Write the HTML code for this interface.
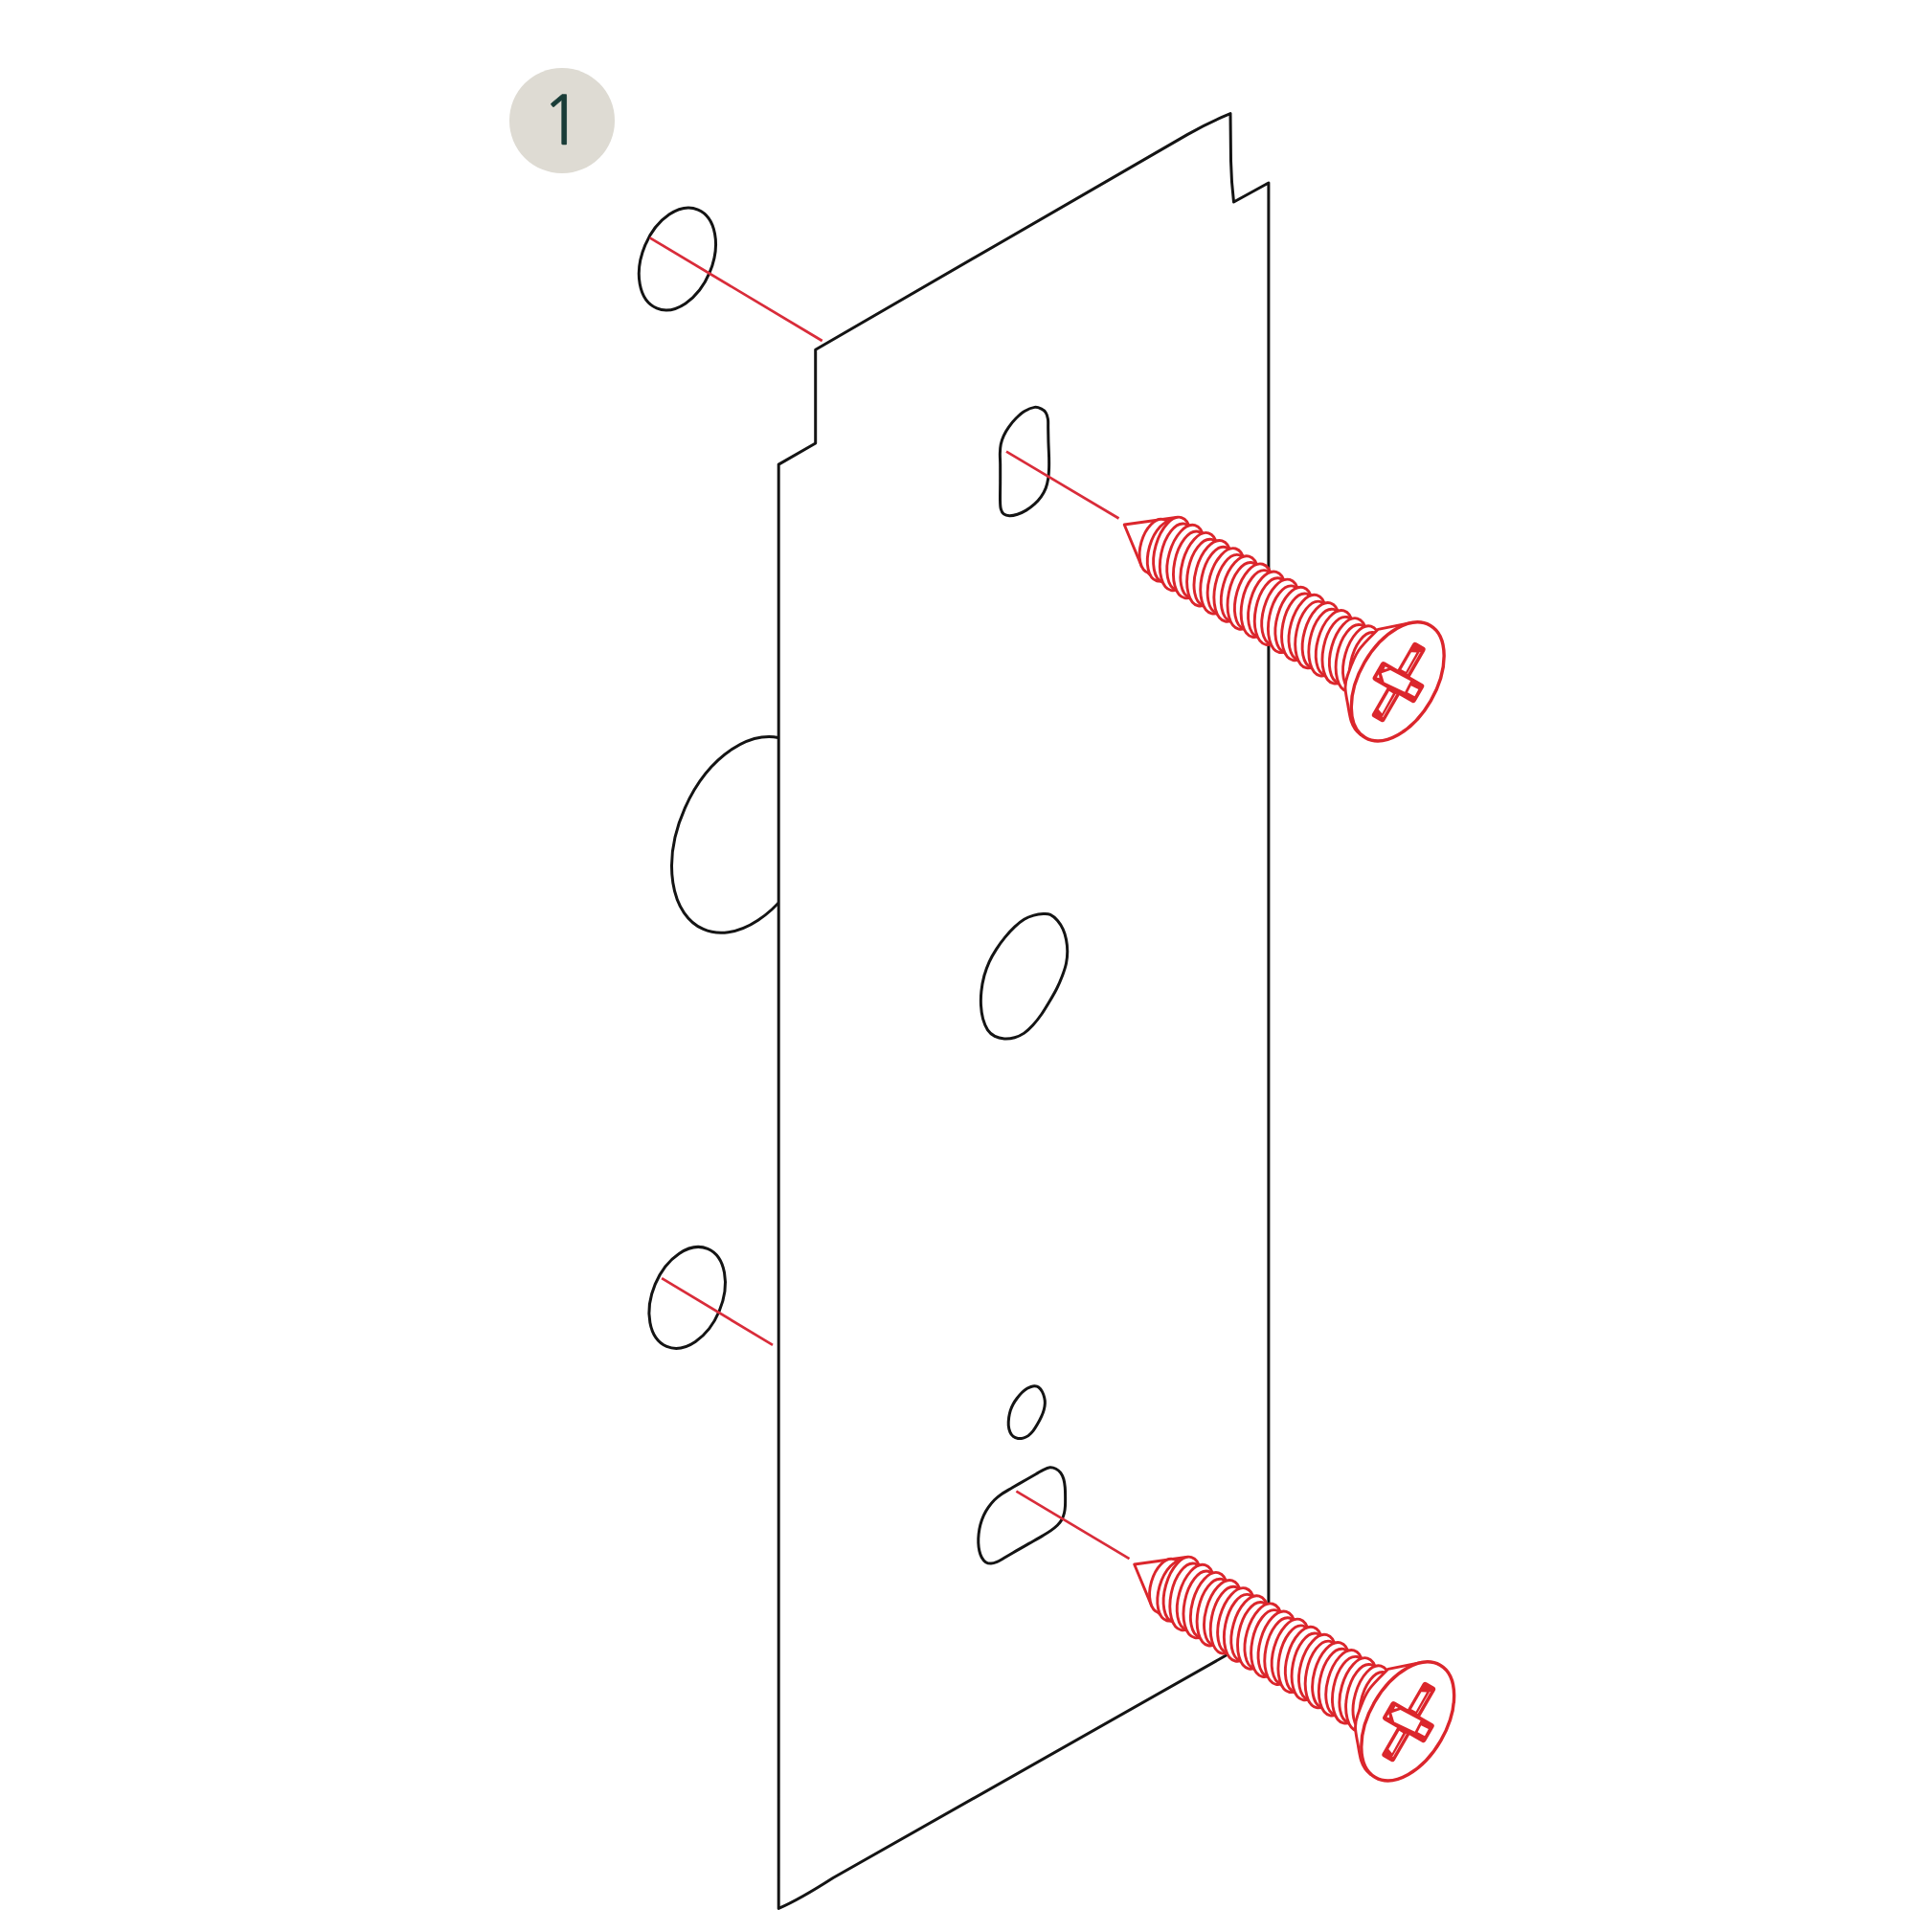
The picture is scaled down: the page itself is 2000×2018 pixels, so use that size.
<!DOCTYPE html>
<html><head><meta charset="utf-8"><title>Step 1</title>
<style>
html,body{margin:0;padding:0;background:#fff}
body{width:2000px;height:2018px;overflow:hidden;position:relative;font-family:"Liberation Sans",sans-serif}
svg{position:absolute;left:0;top:0;display:block;filter:blur(0.6px)}
.bk{fill:none;stroke:#141414;stroke-width:3.0;stroke-linejoin:round}
.rl{stroke:#d92c3a;stroke-width:2.7;stroke-linecap:butt}
.sc{fill:#fff;stroke:#db262c;stroke-width:2.9;stroke-linejoin:round}
.sh{fill:#fff;stroke:#db262c;stroke-width:3.4}
.cf{fill:#db262c;stroke:#db262c;stroke-width:6;stroke-linejoin:round}
.cw{fill:#fff;stroke:none}
.cwf{fill:#fff;stroke:none}
.so{fill:none;stroke:#db262c;stroke-width:3;stroke-linecap:round}
.cl{fill:none;stroke:#fff;stroke-width:0.7}
.badge{position:absolute;left:532.1px;top:71px;width:109.6px;height:109.6px;border-radius:50%;background:#dedbd3}
.num{position:absolute;left:565.6px;top:82.9px;color:#193c37;font-family:"NanumGothic","Liberation Sans",sans-serif;font-size:71px;line-height:85.2px;-webkit-text-stroke:0.7px #193c37;white-space:nowrap}
</style></head><body>
<svg width="2000" height="2018" viewBox="0 0 2000 2018">
<ellipse cx="707.4" cy="270.5" rx="55.8" ry="36.6" transform="rotate(-67.2 707.4 270.5)" class="bk"/>
<ellipse cx="717.7" cy="1355.4" rx="55.3" ry="36.3" transform="rotate(-67.2 717.7 1355.4)" class="bk"/>
<ellipse cx="778.1" cy="871.9" rx="107.8" ry="68.7" transform="rotate(-66.1 778.1 871.9)" class="bk"/>
<path d="M813.2 485.1 L851.7 463 L851.7 365.2 L1240 140.6 Q1262 128 1285 118.6 L1285.5 168 Q1286 190 1288.5 211 L1324.9 191 L1324.9 1703.9 L870 1961.5 Q835 1984 813.2 1993.4 Z" fill="#fff" stroke="#141414" stroke-width="3.0" stroke-linejoin="round"/>
<path d="M1089.5 954.49 C1092.4 954.35 1094.47 954.15 1096.96 955.32 C1099.44 956.49 1102.2 958.98 1104.41 961.53 C1106.62 964.09 1108.69 967.33 1110.21 970.64 C1111.73 973.95 1112.76 977.54 1113.52 981.41 C1114.28 985.27 1114.76 989.69 1114.76 993.83 C1114.76 997.97 1114.42 1001.97 1113.52 1006.25 C1112.62 1010.53 1111.04 1015.09 1109.38 1019.5 C1107.72 1023.92 1105.79 1028.34 1103.58 1032.75 C1101.37 1037.17 1098.75 1041.59 1096.13 1046 C1093.51 1050.42 1090.75 1055.11 1087.85 1059.25 C1084.95 1063.4 1081.77 1067.54 1078.74 1070.85 C1075.7 1074.16 1072.8 1076.99 1069.63 1079.13 C1066.45 1081.27 1063.14 1082.72 1059.69 1083.69 C1056.24 1084.65 1052.37 1085.13 1048.92 1084.93 C1045.47 1084.72 1041.88 1083.96 1038.99 1082.44 C1036.09 1080.92 1033.6 1078.85 1031.53 1075.82 C1029.46 1072.78 1027.74 1068.5 1026.56 1064.22 C1025.39 1059.94 1024.77 1054.98 1024.49 1050.14 C1024.22 1045.31 1024.35 1040.35 1024.91 1035.24 C1025.46 1030.13 1026.43 1024.61 1027.81 1019.5 C1029.19 1014.4 1031.05 1009.29 1033.19 1004.6 C1035.33 999.9 1037.88 995.62 1040.64 991.35 C1043.4 987.07 1046.58 982.79 1049.75 978.92 C1052.93 975.06 1056.38 971.26 1059.69 968.16 C1063 965.05 1066.31 962.29 1069.63 960.29 C1072.94 958.29 1076.25 957.12 1079.57 956.15 C1082.88 955.18 1086.6 954.63 1089.5 954.49 Z" class="bk"/>
<path d="M1080.58 1447.84 C1081.89 1447.94 1083.41 1448.11 1084.72 1449.08 C1086.03 1450.04 1087.45 1451.84 1088.45 1453.63 C1089.45 1455.43 1090.24 1457.84 1090.72 1459.84 C1091.21 1461.85 1091.41 1463.57 1091.35 1465.64 C1091.28 1467.71 1090.93 1469.92 1090.31 1472.27 C1089.69 1474.61 1088.76 1477.17 1087.62 1479.72 C1086.48 1482.27 1084.93 1485.1 1083.48 1487.59 C1082.03 1490.07 1080.51 1492.63 1078.92 1494.63 C1077.34 1496.63 1075.68 1498.35 1073.95 1499.6 C1072.23 1500.84 1070.37 1501.6 1068.57 1502.08 C1066.78 1502.56 1064.91 1502.77 1063.19 1502.49 C1061.46 1502.22 1059.6 1501.53 1058.22 1500.42 C1056.84 1499.32 1055.73 1497.8 1054.91 1495.87 C1054.08 1493.94 1053.46 1491.38 1053.25 1488.83 C1053.04 1486.28 1053.32 1483.17 1053.66 1480.55 C1054.01 1477.93 1054.56 1475.44 1055.32 1473.1 C1056.08 1470.75 1057.05 1468.61 1058.22 1466.47 C1059.39 1464.33 1060.84 1462.26 1062.36 1460.26 C1063.88 1458.26 1065.6 1456.12 1067.33 1454.46 C1069.05 1452.81 1071.12 1451.32 1072.71 1450.32 C1074.3 1449.32 1075.54 1448.87 1076.85 1448.46 C1078.16 1448.04 1079.27 1447.73 1080.58 1447.84 Z" class="bk"/>
<path d="M1080.56 425.39 C1083.43 424.95 1085.37 425.95 1087.31 426.89 C1089.25 427.83 1091 429.21 1092.19 431.02 C1093.38 432.84 1094.03 435.03 1094.44 437.78 C1094.86 440.53 1094.58 443.41 1094.67 447.54 C1094.76 451.67 1094.82 457.55 1094.97 462.55 C1095.12 467.56 1095.47 473.19 1095.57 477.57 C1095.67 481.95 1095.72 485.08 1095.57 488.83 C1095.42 492.58 1095.23 496.59 1094.67 500.09 C1094.11 503.59 1093.42 506.72 1092.19 509.85 C1090.97 512.98 1089.25 516.11 1087.31 518.86 C1085.37 521.61 1083.18 523.99 1080.56 526.37 C1077.93 528.74 1074.55 531.31 1071.55 533.12 C1068.54 534.94 1065.42 536.31 1062.54 537.25 C1059.66 538.19 1056.66 538.82 1054.28 538.75 C1051.9 538.69 1049.77 538.07 1048.27 536.88 C1046.77 535.69 1045.9 534 1045.27 531.62 C1044.64 529.24 1044.62 527.24 1044.52 522.61 C1044.42 517.98 1044.64 510.1 1044.67 503.84 C1044.69 497.59 1044.72 490.08 1044.67 485.08 C1044.62 480.07 1044.27 477.32 1044.37 473.81 C1044.47 470.31 1044.62 467.18 1045.27 464.05 C1045.92 460.93 1046.9 458.05 1048.27 455.05 C1049.65 452.04 1051.4 449.04 1053.53 446.04 C1055.66 443.03 1058.28 439.78 1061.04 437.03 C1063.79 434.27 1066.79 431.46 1070.05 429.52 C1073.3 427.58 1077.68 425.83 1080.56 425.39 Z" class="bk"/>
<path d="M1096.54 1532.82 C1098.76 1532.65 1100.97 1533.29 1102.83 1534.22 C1104.7 1535.15 1106.39 1536.6 1107.73 1538.41 C1109.06 1540.22 1110.11 1542.54 1110.87 1545.05 C1111.63 1547.55 1111.98 1550.29 1112.27 1553.43 C1112.56 1556.58 1112.58 1560.66 1112.62 1563.92 C1112.65 1567.18 1112.65 1570.32 1112.48 1573 C1112.3 1575.68 1112.13 1577.66 1111.57 1579.99 C1111.01 1582.32 1110.35 1584.76 1109.12 1586.98 C1107.9 1589.19 1106.21 1591.29 1104.23 1593.27 C1102.25 1595.25 1099.81 1597.05 1097.24 1598.86 C1094.68 1600.66 1092.58 1601.89 1088.86 1604.1 C1085.13 1606.31 1079.54 1609.46 1074.88 1612.13 C1070.22 1614.81 1065.33 1617.61 1060.9 1620.17 C1056.48 1622.73 1051.59 1625.65 1048.33 1627.51 C1045.07 1629.37 1043.55 1630.42 1041.34 1631.35 C1039.13 1632.28 1037.03 1633.04 1035.05 1633.1 C1033.07 1633.16 1031.09 1632.75 1029.46 1631.7 C1027.83 1630.65 1026.37 1628.79 1025.27 1626.81 C1024.16 1624.83 1023.4 1622.38 1022.82 1619.82 C1022.24 1617.26 1021.89 1614.35 1021.77 1611.44 C1021.66 1608.52 1021.77 1605.5 1022.12 1602.35 C1022.47 1599.21 1022.99 1595.83 1023.87 1592.57 C1024.74 1589.31 1025.96 1585.81 1027.36 1582.78 C1028.76 1579.76 1030.39 1577.08 1032.25 1574.4 C1034.12 1571.72 1036.21 1569.04 1038.54 1566.71 C1040.87 1564.38 1043.09 1562.58 1046.23 1560.42 C1049.37 1558.27 1053.22 1556.23 1057.41 1553.78 C1061.6 1551.34 1067.31 1548.08 1071.39 1545.75 C1075.46 1543.42 1078.84 1541.55 1081.87 1539.81 C1084.9 1538.06 1087.11 1536.43 1089.56 1535.27 C1092 1534.1 1094.33 1532.99 1096.54 1532.82 Z" class="bk"/>
<line x1="678.6" y1="248.3" x2="858.7" y2="356" class="rl"/>
<line x1="691.1" y1="1335.2" x2="807" y2="1404.8" class="rl"/>
<line x1="1051" y1="471.7" x2="1168.5" y2="541.5" class="rl"/>
<line x1="1061.4" y1="1557.6" x2="1179.5" y2="1628.1" class="rl"/>
<path d="M1229.99 540.3 L1174.2 548 L1192.06 590.9 L1201.21 600.45 Z" class="sc" />
<ellipse cx="1207.4" cy="570.51" rx="16" ry="29" transform="rotate(16 1207.4 570.51)" class="sc"/>
<ellipse cx="1217.1" cy="575.51" rx="17.2" ry="32.5" transform="rotate(16 1217.1 575.51)" class="sc"/>
<ellipse cx="1224.2" cy="574.39" rx="17.7" ry="35.2" transform="rotate(16 1224.2 574.39)" class="sc"/>
<ellipse cx="1230.17" cy="581.86" rx="17.8" ry="35.4" transform="rotate(11.5 1230.17 581.86)" class="sc"/>
<ellipse cx="1238.33" cy="582.51" rx="17.7" ry="35.2" transform="rotate(16 1238.33 582.51)" class="sc"/>
<ellipse cx="1244.31" cy="589.97" rx="17.8" ry="35.4" transform="rotate(11.5 1244.31 589.97)" class="sc"/>
<ellipse cx="1252.47" cy="590.62" rx="17.7" ry="35.2" transform="rotate(16 1252.47 590.62)" class="sc"/>
<ellipse cx="1258.45" cy="598.09" rx="17.8" ry="35.4" transform="rotate(11.5 1258.45 598.09)" class="sc"/>
<ellipse cx="1266.61" cy="598.73" rx="17.7" ry="35.2" transform="rotate(16 1266.61 598.73)" class="sc"/>
<ellipse cx="1272.58" cy="606.2" rx="17.8" ry="35.4" transform="rotate(11.5 1272.58 606.2)" class="sc"/>
<ellipse cx="1280.74" cy="606.85" rx="17.7" ry="35.2" transform="rotate(16 1280.74 606.85)" class="sc"/>
<ellipse cx="1286.72" cy="614.31" rx="17.8" ry="35.4" transform="rotate(11.5 1286.72 614.31)" class="sc"/>
<ellipse cx="1294.88" cy="614.96" rx="17.7" ry="35.2" transform="rotate(16 1294.88 614.96)" class="sc"/>
<ellipse cx="1300.86" cy="622.43" rx="17.8" ry="35.4" transform="rotate(11.5 1300.86 622.43)" class="sc"/>
<ellipse cx="1309.02" cy="623.08" rx="17.7" ry="35.2" transform="rotate(16 1309.02 623.08)" class="sc"/>
<ellipse cx="1314.99" cy="630.54" rx="17.8" ry="35.4" transform="rotate(11.5 1314.99 630.54)" class="sc"/>
<ellipse cx="1323.16" cy="631.19" rx="17.7" ry="35.2" transform="rotate(16 1323.16 631.19)" class="sc"/>
<ellipse cx="1329.13" cy="638.66" rx="17.8" ry="35.4" transform="rotate(11.5 1329.13 638.66)" class="sc"/>
<ellipse cx="1337.29" cy="639.31" rx="17.7" ry="35.2" transform="rotate(16 1337.29 639.31)" class="sc"/>
<ellipse cx="1343.27" cy="646.77" rx="17.8" ry="35.4" transform="rotate(11.5 1343.27 646.77)" class="sc"/>
<ellipse cx="1351.43" cy="647.42" rx="17.7" ry="35.2" transform="rotate(16 1351.43 647.42)" class="sc"/>
<ellipse cx="1357.41" cy="654.89" rx="17.8" ry="35.4" transform="rotate(11.5 1357.41 654.89)" class="sc"/>
<ellipse cx="1365.57" cy="655.53" rx="17.7" ry="35.2" transform="rotate(16 1365.57 655.53)" class="sc"/>
<ellipse cx="1371.54" cy="663" rx="17.8" ry="35.4" transform="rotate(11.5 1371.54 663)" class="sc"/>
<ellipse cx="1379.7" cy="663.65" rx="17.7" ry="35.2" transform="rotate(16 1379.7 663.65)" class="sc"/>
<ellipse cx="1385.68" cy="671.11" rx="17.8" ry="35.4" transform="rotate(11.5 1385.68 671.11)" class="sc"/>
<ellipse cx="1393.84" cy="671.76" rx="17.7" ry="35.2" transform="rotate(16 1393.84 671.76)" class="sc"/>
<ellipse cx="1399.82" cy="679.23" rx="17.8" ry="35.4" transform="rotate(11.5 1399.82 679.23)" class="sc"/>
<ellipse cx="1407.98" cy="679.88" rx="17.7" ry="35.2" transform="rotate(16 1407.98 679.88)" class="sc"/>
<ellipse cx="1413.95" cy="687.34" rx="17.8" ry="35.4" transform="rotate(11.5 1413.95 687.34)" class="sc"/>
<ellipse cx="1422.11" cy="687.99" rx="17.7" ry="35.2" transform="rotate(16 1422.11 687.99)" class="sc"/>
<ellipse cx="1428.09" cy="695.46" rx="17.8" ry="35.4" transform="rotate(11.5 1428.09 695.46)" class="sc"/>
<path d="M1439.3 657.3 C1435.92 660.97 1424.28 671.38 1419 679.3 C1413.72 687.22 1409.93 698.35 1407.6 704.8 C1405.27 711.25 1405 712.87 1405 718 C1405 723.13 1406.58 729.73 1407.6 735.6 C1408.62 741.47 1409.78 748.8 1411.1 753.2 C1412.42 757.6 1413.85 759.62 1415.5 762 C1417.15 764.38 1420.08 766.58 1421 767.5 L1460 712 L1474 650.3 Z" class="sc"/>
<ellipse cx="1459.71" cy="711.88" rx="40" ry="67.7" transform="rotate(30 1459.71 711.88)" class="sh"/>
<path d="M1435.84 746.67 L1443.63 751.17 L1485.63 678.43 L1477.84 673.93 Z" class="cf"/>
<path d="M1463.51 699.14 L1468.19 701.84 L1479.49 681.46 L1473.91 681.13 Z" class="cw"/>
<path d="M1439.76 741.08 L1443.36 745.24 L1454.84 724.16 L1450.86 721.86 Z" class="cw"/>
<path d="M1469.85 703.96 L1483.1 681.01 M1458.02 724.84 L1444.02 749.09" class="cl"/>
<path d="M1436.61 708.32 L1476.02 731.07 L1484.27 716.79 L1444.86 694.04 Z" class="cf"/>
<path d="M1442.79 703.23 L1452.08 699.93 L1473.08 711.36 L1467.2 722.75 L1445.59 712.58 Z" class="cw"/>
<path d="M1473.68 716.33 L1481.39 719.97 L1477.46 727.17 L1470.09 723.15 Z" class="cw"/>
<path d="M1445.51 698.91 L1449.78 697.91 L1446.75 696.16 Z" class="cw"/>
<path d="M1439.99 704.27 L1440.47 708.24 L1437.97 707.38 Z" class="cw"/>
<path d="M1240.49 1626.3 L1184.7 1634 L1202.56 1676.9 L1211.71 1686.45 Z" class="sc" />
<ellipse cx="1217.9" cy="1656.51" rx="16" ry="29" transform="rotate(16 1217.9 1656.51)" class="sc"/>
<ellipse cx="1227.6" cy="1661.51" rx="17.2" ry="32.5" transform="rotate(16 1227.6 1661.51)" class="sc"/>
<ellipse cx="1234.7" cy="1660.39" rx="17.7" ry="35.2" transform="rotate(16 1234.7 1660.39)" class="sc"/>
<ellipse cx="1240.67" cy="1667.86" rx="17.8" ry="35.4" transform="rotate(11.5 1240.67 1667.86)" class="sc"/>
<ellipse cx="1248.83" cy="1668.51" rx="17.7" ry="35.2" transform="rotate(16 1248.83 1668.51)" class="sc"/>
<ellipse cx="1254.81" cy="1675.97" rx="17.8" ry="35.4" transform="rotate(11.5 1254.81 1675.97)" class="sc"/>
<ellipse cx="1262.97" cy="1676.62" rx="17.7" ry="35.2" transform="rotate(16 1262.97 1676.62)" class="sc"/>
<ellipse cx="1268.95" cy="1684.09" rx="17.8" ry="35.4" transform="rotate(11.5 1268.95 1684.09)" class="sc"/>
<ellipse cx="1277.11" cy="1684.73" rx="17.7" ry="35.2" transform="rotate(16 1277.11 1684.73)" class="sc"/>
<ellipse cx="1283.08" cy="1692.2" rx="17.8" ry="35.4" transform="rotate(11.5 1283.08 1692.2)" class="sc"/>
<ellipse cx="1291.24" cy="1692.85" rx="17.7" ry="35.2" transform="rotate(16 1291.24 1692.85)" class="sc"/>
<ellipse cx="1297.22" cy="1700.31" rx="17.8" ry="35.4" transform="rotate(11.5 1297.22 1700.31)" class="sc"/>
<ellipse cx="1305.38" cy="1700.96" rx="17.7" ry="35.2" transform="rotate(16 1305.38 1700.96)" class="sc"/>
<ellipse cx="1311.36" cy="1708.43" rx="17.8" ry="35.4" transform="rotate(11.5 1311.36 1708.43)" class="sc"/>
<ellipse cx="1319.52" cy="1709.08" rx="17.7" ry="35.2" transform="rotate(16 1319.52 1709.08)" class="sc"/>
<ellipse cx="1325.49" cy="1716.54" rx="17.8" ry="35.4" transform="rotate(11.5 1325.49 1716.54)" class="sc"/>
<ellipse cx="1333.66" cy="1717.19" rx="17.7" ry="35.2" transform="rotate(16 1333.66 1717.19)" class="sc"/>
<ellipse cx="1339.63" cy="1724.66" rx="17.8" ry="35.4" transform="rotate(11.5 1339.63 1724.66)" class="sc"/>
<ellipse cx="1347.79" cy="1725.31" rx="17.7" ry="35.2" transform="rotate(16 1347.79 1725.31)" class="sc"/>
<ellipse cx="1353.77" cy="1732.77" rx="17.8" ry="35.4" transform="rotate(11.5 1353.77 1732.77)" class="sc"/>
<ellipse cx="1361.93" cy="1733.42" rx="17.7" ry="35.2" transform="rotate(16 1361.93 1733.42)" class="sc"/>
<ellipse cx="1367.91" cy="1740.89" rx="17.8" ry="35.4" transform="rotate(11.5 1367.91 1740.89)" class="sc"/>
<ellipse cx="1376.07" cy="1741.53" rx="17.7" ry="35.2" transform="rotate(16 1376.07 1741.53)" class="sc"/>
<ellipse cx="1382.04" cy="1749" rx="17.8" ry="35.4" transform="rotate(11.5 1382.04 1749)" class="sc"/>
<ellipse cx="1390.2" cy="1749.65" rx="17.7" ry="35.2" transform="rotate(16 1390.2 1749.65)" class="sc"/>
<ellipse cx="1396.18" cy="1757.11" rx="17.8" ry="35.4" transform="rotate(11.5 1396.18 1757.11)" class="sc"/>
<ellipse cx="1404.34" cy="1757.76" rx="17.7" ry="35.2" transform="rotate(16 1404.34 1757.76)" class="sc"/>
<ellipse cx="1410.32" cy="1765.23" rx="17.8" ry="35.4" transform="rotate(11.5 1410.32 1765.23)" class="sc"/>
<ellipse cx="1418.48" cy="1765.88" rx="17.7" ry="35.2" transform="rotate(16 1418.48 1765.88)" class="sc"/>
<ellipse cx="1424.45" cy="1773.34" rx="17.8" ry="35.4" transform="rotate(11.5 1424.45 1773.34)" class="sc"/>
<ellipse cx="1432.61" cy="1773.99" rx="17.7" ry="35.2" transform="rotate(16 1432.61 1773.99)" class="sc"/>
<ellipse cx="1438.59" cy="1781.46" rx="17.8" ry="35.4" transform="rotate(11.5 1438.59 1781.46)" class="sc"/>
<path d="M1449.8 1743.3 C1446.42 1746.97 1434.78 1757.38 1429.5 1765.3 C1424.22 1773.22 1420.43 1784.35 1418.1 1790.8 C1415.77 1797.25 1415.5 1798.87 1415.5 1804 C1415.5 1809.13 1417.08 1815.73 1418.1 1821.6 C1419.12 1827.47 1420.28 1834.8 1421.6 1839.2 C1422.92 1843.6 1424.35 1845.62 1426 1848 C1427.65 1850.38 1430.58 1852.58 1431.5 1853.5 L1470.5 1798 L1484.5 1736.3 Z" class="sc"/>
<ellipse cx="1470.21" cy="1797.88" rx="40" ry="67.7" transform="rotate(30 1470.21 1797.88)" class="sh"/>
<path d="M1446.34 1832.67 L1454.13 1837.17 L1496.13 1764.43 L1488.34 1759.93 Z" class="cf"/>
<path d="M1474.01 1785.14 L1478.69 1787.84 L1489.99 1767.46 L1484.41 1767.13 Z" class="cw"/>
<path d="M1450.26 1827.08 L1453.86 1831.24 L1465.34 1810.16 L1461.36 1807.86 Z" class="cw"/>
<path d="M1480.35 1789.96 L1493.6 1767.01 M1468.52 1810.84 L1454.52 1835.09" class="cl"/>
<path d="M1447.11 1794.32 L1486.52 1817.07 L1494.77 1802.79 L1455.36 1780.04 Z" class="cf"/>
<path d="M1453.29 1789.23 L1462.58 1785.93 L1483.58 1797.36 L1477.7 1808.75 L1456.09 1798.58 Z" class="cw"/>
<path d="M1484.18 1802.33 L1491.89 1805.97 L1487.96 1813.17 L1480.59 1809.15 Z" class="cw"/>
<path d="M1456.01 1784.91 L1460.28 1783.91 L1457.25 1782.16 Z" class="cw"/>
<path d="M1450.49 1790.27 L1450.97 1794.24 L1448.47 1793.38 Z" class="cw"/>
</svg>
<div class="badge"></div><div class="num">1</div>
</body></html>
